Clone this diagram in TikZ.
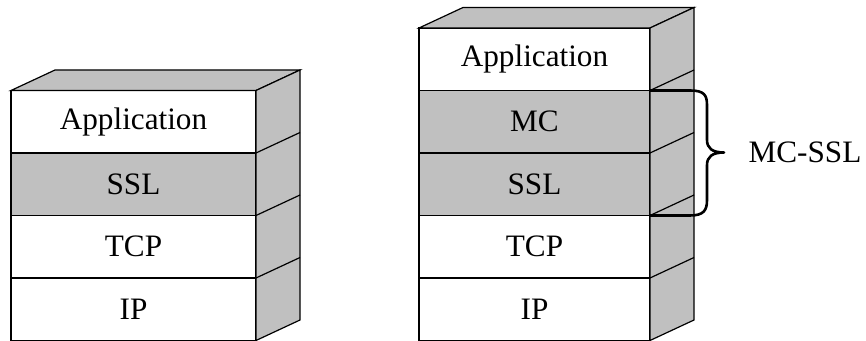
\documentclass[tikz,border=0pt]{standalone}
\usepackage{fontspec}
\setmainfont{Liberation Serif}
\usetikzlibrary{calc}
\definecolor{side}{HTML}{C0C0C0}
\tikzset{
  lyr/.style={draw=black, line width=0.6pt, outer sep=0pt, inner sep=0pt,
    minimum height=31.25pt, font=\fontsize{15.6}{18}\selectfont},
  lw/.style={lyr, fill=white},
  lg/.style={lyr, fill=side},
  face/.style={fill=side, draw=black, line width=0.6pt},
  edge/.style={draw=black, line width=0.6pt},
  brace/.style={draw=black, line width=1.3pt, line join=round}
}
\begin{document}
\begin{tikzpicture}[x=0.5pt,y=-0.5pt]
\useasboundingbox (0,0) rectangle (866,341);
% ---------- left stack ----------
\begin{scope}[every node/.append style={minimum width=122.5pt}]
\node[lw] (L1) at (133.5,121.75) {Application};
\node[lg] (L2) at (133.5,184.25) {SSL};
\node[lw] (L3) at (133.5,246.75) {TCP};
\node[lw] (L4) at (133.5,309.25) {IP};
\end{scope}
\path[face] (L1.north west) -- ++(44,-20.5) -- ($(L1.north east)+(44,-20.5)$) -- (L1.north east) -- cycle;
\path[face] (L1.north east) -- ++(44,-20.5) -- ($(L4.south east)+(44,-20.5)$) -- (L4.south east) -- cycle;
\foreach \n in {L1,L2,L3}{\draw[edge] (\n.south east) -- ++(44,-20.5);}
% ---------- right stack ----------
\begin{scope}[every node/.append style={minimum width=115.5pt}]
\node[lw] (R1) at (534.5,59.25) {Application};
\node[lg] (R2) at (534.5,121.75) {MC};
\node[lg] (R3) at (534.5,184.25) {SSL};
\node[lw] (R4) at (534.5,246.75) {TCP};
\node[lw] (R5) at (534.5,309.25) {IP};
\end{scope}
\path[face] (R1.north west) -- ++(44,-20.5) -- ($(R1.north east)+(44,-20.5)$) -- (R1.north east) -- cycle;
\path[face] (R1.north east) -- ++(44,-20.5) -- ($(R5.south east)+(44,-20.5)$) -- (R5.south east) -- cycle;
\foreach \n in {R1,R2,R3,R4}{\draw[edge] (\n.south east) -- ++(44,-20.5);}
% ---------- brace and label ----------
\node[font=\fontsize{15.6}{18}\selectfont, inner sep=0pt] (M) at (805,152.5) {MC-SSL};
\coordinate (tip) at (724,152.5);
\draw[brace] (R2.north east) -- (690,90.5) .. controls (704,90.5) and (707,95) .. (707,105)
  -- (707,140) .. controls (707,148) and (712,152.5) .. (tip)
  .. controls (712,152.5) and (707,157) .. (707,165)
  -- (707,200) .. controls (707,210) and (704,215.5) .. (690,215.5) -- (R3.south east);
\end{tikzpicture}
\end{document}
